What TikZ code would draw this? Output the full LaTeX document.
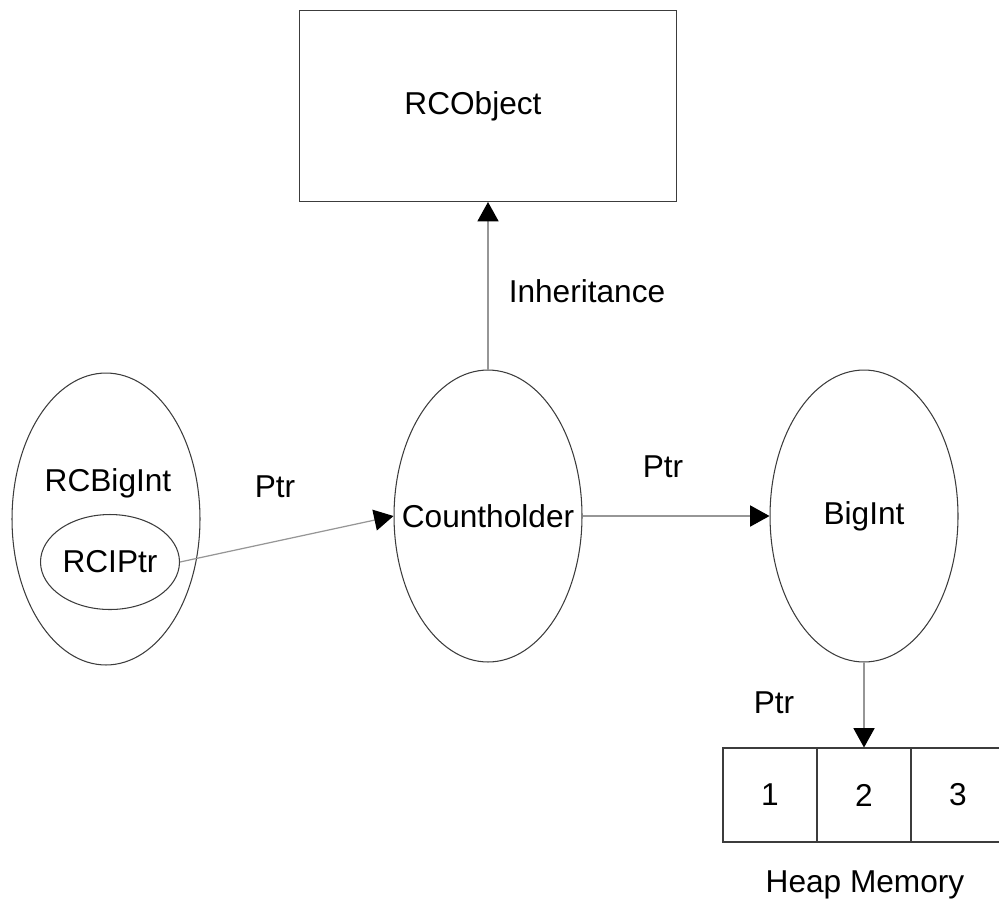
\documentclass[tikz,border=0pt]{standalone}
\usepackage{fontspec}
\setmainfont{Liberation Sans}
\usepackage{tikz}
\usetikzlibrary{shapes.geometric, positioning, arrows.meta}
\definecolor{RCLine}{RGB}{60,60,60}
\definecolor{RCArrow}{RGB}{150,150,150}

\begin{document}
\begin{tikzpicture}[
      x=0.02cm, y=-0.02cm,
      obj/.style={ellipse, draw=RCLine, line width=0.6pt,
                  minimum width=3.76cm, minimum height=5.84cm,
                  inner sep=0pt, font=\fontsize{18}{22}\selectfont},
      cell/.style={rectangle, draw=RCLine, line width=0.6pt,
                   minimum width=1.88cm, minimum height=1.88cm,
                   font=\fontsize{18}{22}\selectfont},
      arr/.style={-{Triangle[length=11pt, width=12pt, color=black]},
                  RCArrow, line width=0.7pt},
      lbl/.style={font=\fontsize{18}{22}\selectfont}
    ]
    \useasboundingbox (0,0) rectangle (999,903);

    % Base class
    \node[rectangle, draw=RCLine, line width=0.6pt,
          minimum width=7.54cm, minimum height=3.82cm,
          font=\fontsize{18}{22}\selectfont]
          (obj) at (488,106) {\makebox[0pt]{RCObject\hspace{0.6cm}}};

    % Objects (text kept narrow so the ellipse keeps its size)
    \node[obj] (rcbig) at (106,519) {};
    \node[lbl] at (108,483) {RCBigInt};
    \node[ellipse, draw=RCLine, line width=0.6pt,
          minimum width=2.78cm, minimum height=1.9cm, inner sep=0pt,
          font=\fontsize{18}{22}\selectfont]
          (rciptr) at (110,562) {\makebox[0pt]{RCIPtr}};
    \node[obj] (count) at (488,516) {\makebox[0pt]{Countholder}};
    \node[obj] (bigint) at (864,516) {\makebox[0pt]{BigInt}};

    % Heap memory
    \foreach \i/\x in {1/770, 2/864, 3/958} {
      \node[cell] (heap\i) at (\x,795) {\i};
    }
    \node[lbl] at (865,885) {Heap Memory};

    % Links
    \draw[arr] (count.north) -- (obj.south);
    \node[lbl] at (587,291) {Inheritance};
    \draw[arr] (rciptr.east) -- (count.west);
    \node[lbl] at (275,487) {Ptr};
    \draw[arr] (count.east) -- (bigint.west);
    \node[lbl] at (663,467) {Ptr};
    \draw[arr] (bigint.south) -- (heap2.north);
    \node[lbl] at (774,703) {Ptr};
  \end{tikzpicture}
\end{document}
